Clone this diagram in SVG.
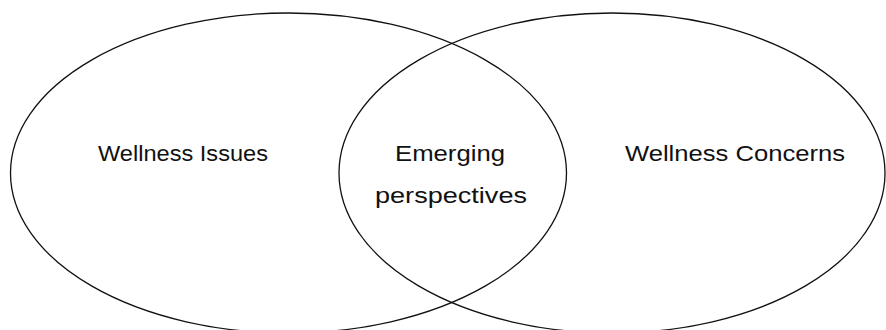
<svg xmlns="http://www.w3.org/2000/svg" width="886" height="330" viewBox="0 0 886 330">
<style>
.c{fill:none;stroke:#111;stroke-width:1.3}
.t{font-family:"Liberation Sans","DejaVu Sans",sans-serif;font-size:22px;fill:#111}
</style>
<rect width="886" height="330" fill="#fff"/>
<g id="left">
<ellipse class="c" cx="288.5" cy="173" rx="278" ry="160"/>
<text class="t" x="98" y="161" textLength="170" lengthAdjust="spacingAndGlyphs">Wellness Issues</text>
</g>
<g id="right">
<ellipse class="c" cx="612" cy="173" rx="273" ry="160"/>
<text class="t" x="625" y="161" textLength="220" lengthAdjust="spacingAndGlyphs">Wellness Concerns</text>
</g>
<g id="overlap">
<text class="t" x="395" y="161" textLength="110" lengthAdjust="spacingAndGlyphs">Emerging</text>
<text class="t" x="375" y="203" textLength="152" lengthAdjust="spacingAndGlyphs">perspectives</text>
</g>
<g id="connectors"/>
</svg>
